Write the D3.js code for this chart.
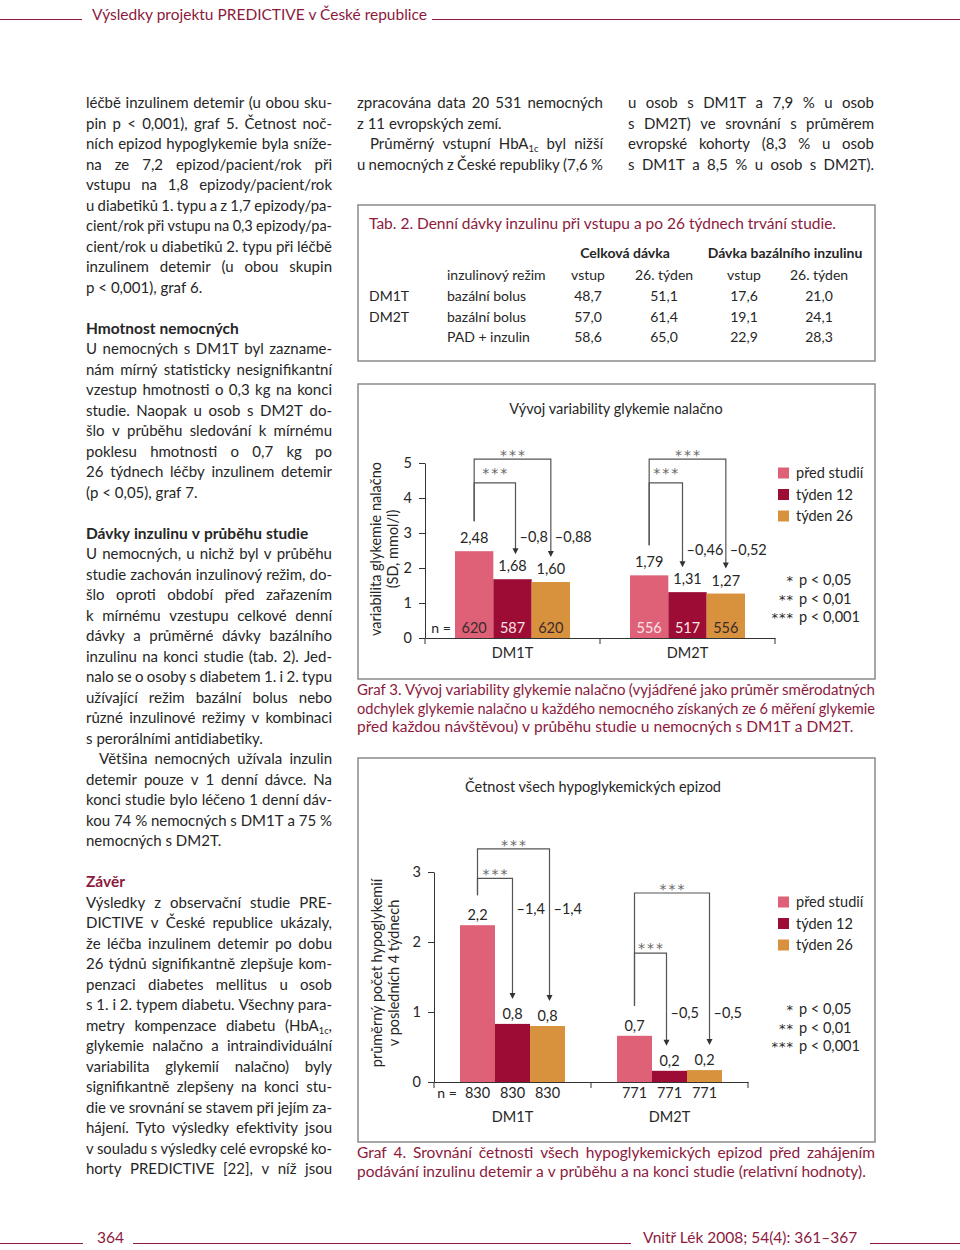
<!DOCTYPE html>
<html><head><meta charset="utf-8">
<script src="https://cdn.jsdelivr.net/npm/d3@7"></script>
<style>body{margin:0;background:#fff}svg{display:block}text{font-family:Lato,"Open Sans",sans-serif}</style>
</head><body><svg id="page" width="960" height="1250"></svg>
<script>
// ---------- DATA ----------
const series = ["před studií", "týden 12", "týden 26"];
const groups = ["DM1T", "DM2T"];
// Graf 3: variabilita glykemie nalačno (SD, mmol/l)
const g3DM1T = [2.48, 1.68, 1.60];
const g3DM2T = [1.79, 1.31, 1.27];
const g3N_DM1T = [620, 587, 620];
const g3N_DM2T = [556, 517, 556];
const g3Diff_DM1T = ["–0,8", "–0,88"];
const g3Diff_DM2T = ["–0,46", "–0,52"];
const g3Ticks = [0, 1, 2, 3, 4, 5];
// Graf 4: průměrný počet hypoglykemií
const g4DM1T = [2.24, 0.83, 0.80];
const g4DM2T = [0.66, 0.16, 0.17];
const g4N_DM1T = [830, 830, 830];
const g4N_DM2T = [771, 771, 771];
const g4Diff_DM1T = ["–1,4", "–1,4"];
const g4Diff_DM2T = ["–0,5", "–0,5"];
const g4Ticks = [0, 1, 2, 3];
const sigLegend = [["*", "p < 0,05"], ["**", "p < 0,01"], ["***", "p < 0,001"]];
// Tab. 2
const tabCols = ["inzulinový režim", "vstup", "26. týden", "vstup", "26. týden"];
const tabGroups = ["DM1T", "DM2T", ""];
const tabRegimes = ["bazální bolus", "bazální bolus", "PAD + inzulin"];
const tabTotalStart = ["48,7", "57,0", "58,6"];
const tabTotalEnd = ["51,1", "61,4", "65,0"];
const tabBasalStart = ["17,6", "19,1", "22,9"];
const tabBasalEnd = ["21,0", "24,1", "28,3"];

// ---------- STYLE ----------
const C = {pink: "#de6178", dark: "#9d0c34", orange: "#d8923e"};
const colors = [C.pink, C.dark, C.orange];
const MAROON = "#8c1a3d", INK = "#262626", GREY = "#555";
const STAR_FONT = "'DejaVu Sans', sans-serif";

const svg = d3.select("#page");
svg.append("rect").attr("width", 960).attr("height", 1250).attr("fill", "#fff");

function appendRich(t, word) {
  const parts = word.split(/(\{[^}]*\})/).filter(p => p.length);
  let sub = false;
  parts.forEach(p => {
    if (p.startsWith("{")) {
      t.append("tspan").attr("font-size", "0.62em").attr("dy", 3).text(p.slice(1, -1));
      sub = true;
    } else {
      const s = t.append("tspan").text(p);
      if (sub) { s.attr("dy", -3); sub = false; }
    }
  });
}
function drawLine(g, str, x0, x1, y, o) {
  const words = str.split(" ");
  const nodes = words.map(w => {
    const t = g.append("text").attr("y", y).attr("font-size", o.size)
      .attr("font-weight", o.bold ? 700 : 400).attr("fill", o.fill || INK);
    appendRich(t, w);
    return t;
  });
  let widths = nodes.map(n => n.node().getComputedTextLength());
  const start = x0 + (o.indent || 0);
  const avail = x1 - start;
  const minGap = o.size * 0.22;
  let gap = o.size * 0.26;
  const n = words.length;
  if (o.justify && n > 1) gap = (avail - d3.sum(widths)) / (n - 1);
  if (n > 1 && gap < minGap && o.justify) {
    const k = (avail - minGap * (n - 1)) / d3.sum(widths);
    nodes.forEach((nd, i) => {
      if (nd.selectAll("tspan").size() === 1)
        nd.attr("textLength", widths[i] * k).attr("lengthAdjust", "spacingAndGlyphs");
    });
    widths = widths.map(w => w * k);
    gap = minGap;
  }
  let x = start;
  nodes.forEach((nd, i) => { nd.attr("x", x); x += widths[i] + gap; });
}
function drawBlock(lines, x0, x1, yStart, lh, size) {
  const g = svg.append("g");
  lines.forEach((l, i) => {
    if (!l) return;
    const o = typeof l === "string" ? {t: l, j: true} : l;
    drawLine(g, o.t, x0, x1, yStart + i * lh, {size: o.size || size, bold: o.b, fill: o.c, justify: o.j, indent: o.ind});
  });
}

// ---------- HEADER / FOOTER ----------
svg.append("line").attr("x1", 0).attr("x2", 82).attr("y1", 19.5).attr("y2", 19.5).attr("stroke", MAROON);
svg.append("text").attr("x", 92).attr("y", 20).attr("font-size", 15.5).attr("fill", MAROON)
  .text("Výsledky projektu PREDICTIVE v České republice");
svg.append("line").attr("x1", 432).attr("x2", 960).attr("y1", 19.5).attr("y2", 19.5).attr("stroke", MAROON);

svg.append("line").attr("x1", 0).attr("x2", 83).attr("y1", 1243.5).attr("y2", 1243.5).attr("stroke", MAROON);
svg.append("text").attr("x", 97).attr("y", 1243).attr("font-size", 15.5).attr("fill", MAROON).text("364");
svg.append("line").attr("x1", 133).attr("x2", 631).attr("y1", 1243.5).attr("y2", 1243.5).attr("stroke", MAROON);
svg.append("text").attr("x", 643).attr("y", 1243).attr("font-size", 15.5).attr("fill", MAROON).text("Vnitř Lék 2008; 54(4): 361–367");
svg.append("line").attr("x1", 870).attr("x2", 960).attr("y1", 1243.5).attr("y2", 1243.5).attr("stroke", MAROON);

// ---------- LEFT COLUMN ----------
const leftLines = [
  "léčbě inzulinem detemir (u obou sku-",
  "pin p < 0,001), graf 5. Četnost noč-",
  "ních epizod hypoglykemie byla sníže-",
  "na ze 7,2 epizod/pacient/rok při",
  "vstupu na 1,8 epizody/pacient/rok",
  "u diabetiků 1. typu a z 1,7 epizody/pa-",
  "cient/rok při vstupu na 0,3 epizody/pa-",
  "cient/rok u diabetiků 2. typu při léčbě",
  "inzulinem detemir (u obou skupin",
  {t: "p < 0,001), graf 6."},
  null,
  {t: "Hmotnost nemocných", b: true, size: 15.5},
  "U nemocných s DM1T byl zazname-",
  "nám mírný statisticky nesignifikantní",
  "vzestup hmotnosti o 0,3 kg na konci",
  "studie. Naopak u osob s DM2T do-",
  "šlo v průběhu sledování k mírnému",
  "poklesu hmotnosti o 0,7 kg po",
  "26 týdnech léčby inzulinem detemir",
  {t: "(p < 0,05), graf 7."},
  null,
  {t: "Dávky inzulinu v průběhu studie", b: true, size: 15.5},
  "U nemocných, u nichž byl v průběhu",
  "studie zachován inzulinový režim, do-",
  "šlo oproti období před zařazením",
  "k mírnému vzestupu celkové denní",
  "dávky a průměrné dávky bazálního",
  "inzulinu na konci studie (tab. 2). Jed-",
  "nalo se o osoby s diabetem 1. i 2. typu",
  "užívající režim bazální bolus nebo",
  "různé inzulinové režimy v kombinaci",
  {t: "s perorálními antidiabetiky."},
  {t: "Většina nemocných užívala inzulin", j: true, ind: 13},
  "detemir pouze v 1 denní dávce. Na",
  "konci studie bylo léčeno 1 denní dáv-",
  "kou 74 % nemocných s DM1T a 75 %",
  {t: "nemocných s DM2T."},
  null,
  {t: "Závěr", b: true, c: MAROON, size: 15.5},
  "Výsledky z observační studie PRE-",
  "DICTIVE v České republice ukázaly,",
  "že léčba inzulinem detemir po dobu",
  "26 týdnů signifikantně zlepšuje kom-",
  "penzaci diabetes mellitus u osob",
  "s 1. i 2. typem diabetu. Všechny para-",
  "metry kompenzace diabetu (HbA{1c},",
  "glykemie nalačno a intraindividuální",
  "variabilita glykemií nalačno) byly",
  "signifikantně zlepšeny na konci stu-",
  "die ve srovnání se stavem při jejím za-",
  "hájení. Tyto výsledky efektivity jsou",
  "v souladu s výsledky celé evropské ko-",
  "horty PREDICTIVE [22], v níž jsou"
];
drawBlock(leftLines, 86, 332, 108, 20.5, 15);

drawBlock([
  "zpracována data 20 531 nemocných",
  {t: "z 11 evropských zemí."},
  {t: "Průměrný vstupní HbA{1c} byl nižší", j: true, ind: 13},
  "u nemocných z České republiky (7,6 %"
], 357, 603, 108, 20.5, 15);
drawBlock([
  "u osob s DM1T a 7,9 % u osob",
  "s DM2T) ve srovnání s průměrem",
  "evropské kohorty (8,3 % u osob",
  "s DM1T a 8,5 % u osob s DM2T)."
], 628, 874, 108, 20.5, 15);

// ---------- TABLE ----------
const tab = svg.append("g");
tab.append("rect").attr("x", 358).attr("y", 205).attr("width", 517).attr("height", 156)
  .attr("fill", "none").attr("stroke", "#8a8a8a").attr("stroke-width", 1.5);
tab.append("text").attr("x", 369).attr("y", 229).attr("font-size", 15.5).attr("fill", MAROON)
  .text("Tab. 2. Denní dávky inzulinu při vstupu a po 26 týdnech trvání studie.");
const colX = [447, 588, 664, 744, 819];
tab.append("text").attr("x", 625).attr("y", 258).attr("text-anchor", "middle").attr("font-size", 14)
  .attr("font-weight", 700).attr("fill", INK).text("Celková dávka");
tab.append("text").attr("x", 785).attr("y", 258).attr("text-anchor", "middle").attr("font-size", 14)
  .attr("font-weight", 700).attr("fill", INK).text("Dávka bazálního inzulinu");
tabCols.forEach((c, i) => tab.append("text").attr("x", colX[i]).attr("y", 280)
  .attr("text-anchor", i ? "middle" : "start").attr("font-size", 14).attr("fill", INK).text(c));
const tabCells = [tabRegimes, tabTotalStart, tabTotalEnd, tabBasalStart, tabBasalEnd];
tabGroups.forEach((gname, r) => {
  const y = 301 + r * 20.5;
  tab.append("text").attr("x", 369).attr("y", y).attr("font-size", 14).attr("fill", INK).text(gname);
  tabCells.forEach((col, i) => tab.append("text").attr("x", colX[i]).attr("y", y)
    .attr("text-anchor", i ? "middle" : "start").attr("font-size", 14).attr("fill", INK).text(col[r]));
});

// ---------- CHART FUNCTION ----------
function chart(cfg) {
  const g = svg.append("g");
  g.append("rect").attr("x", cfg.box[0]).attr("y", cfg.box[1]).attr("width", cfg.box[2]).attr("height", cfg.box[3])
    .attr("fill", "none").attr("stroke", "#8a8a8a").attr("stroke-width", 1.5);
  g.append("text").attr("x", cfg.titleX).attr("y", cfg.titleY).attr("text-anchor", "middle")
    .attr("font-size", 14.5).attr("fill", INK).text(cfg.title);

  const y = d3.scaleLinear().domain([0, cfg.ymax]).range([cfg.y0, cfg.yTop]);
  const x0 = d3.scaleBand().domain(groups).range([cfg.xl, cfg.xr]).padding(0);
  const inset = (x0.bandwidth() - cfg.groupW) / 2;
  const x1 = d3.scaleBand().domain(series).range([inset, inset + cfg.groupW]).padding(0);
  const cx = (gr, s) => x0(gr) + x1(series[s]) + x1.bandwidth() / 2;

  // y axis
  const ya = g.append("g").attr("transform", `translate(${cfg.xl},0)`)
    .call(d3.axisLeft(y).tickValues(cfg.ticks).tickSize(6).tickSizeOuter(0).tickPadding(7).tickFormat(d3.format("d")));
  ya.selectAll("path,line").attr("stroke", "#333");
  ya.selectAll("text").attr("font-size", 14.5).attr("fill", INK);
  // x axis
  const xa = g.append("g").attr("transform", `translate(0,${cfg.y0})`)
    .call(d3.axisBottom(x0).tickSize(0).tickPadding(cfg.catPad).tickSizeOuter(0));
  xa.select(".domain").attr("stroke", "#333");
  xa.selectAll("text").attr("font-size", 14.5).attr("fill", INK);
  const bounds = [cfg.xl, x0("DM2T"), cfg.xr];
  g.selectAll(".bt").data(bounds).join("line").attr("x1", d => d).attr("x2", d => d)
    .attr("y1", cfg.y0).attr("y2", cfg.y0 + 6).attr("stroke", "#333");

  // axis title
  const at = g.append("text").attr("transform", `translate(${cfg.axX},${cfg.axY}) rotate(-90)`)
    .attr("text-anchor", "middle").attr("font-size", 14.5).attr("fill", INK);
  cfg.axTitle.forEach((t, i) => at.append("tspan").attr("x", 0).attr("dy", i ? 17 : 0).text(t));

  // bars
  const rows = groups.map((gr, gi) => ({gr, vals: cfg.values[gi], n: cfg.ns[gi], lab: cfg.labels[gi]}));
  rows.forEach(r => {
    r.vals.forEach((v, s) => {
      g.append("rect").attr("x", x0(r.gr) + x1(series[s])).attr("width", x1.bandwidth())
        .attr("y", y(v)).attr("height", cfg.y0 - y(v)).attr("fill", colors[s]);
      g.append("text").attr("x", cx(r.gr, s)).attr("y", y(v) - cfg.labOff).attr("text-anchor", "middle")
        .attr("font-size", 14.5).attr("fill", INK).text(r.lab[s]);
      g.append("text").attr("x", cx(r.gr, s)).attr("y", cfg.nY).attr("text-anchor", "middle")
        .attr("font-size", 14.5).attr("fill", cfg.nFill(r.gr, s)).text(r.n[s]);
    });
  });
  g.append("text").attr("x", cfg.nLabX).attr("y", cfg.nY).attr("text-anchor", "middle")
    .attr("font-size", 14).attr("fill", INK).text("n =");

  // brackets
  rows.forEach((r, gi) => {
    const b = cfg.brackets[gi];
    const px = cx(r.gr, 0);
    const startY = y(r.vals[0]) - 30;
    [[2, b.outer, b.outerStar, b.outerDx], [1, b.inner, b.innerStar, b.innerDx]].forEach(([s, lvl, starOff, dx]) => {
      const ax = cx(r.gr, s) + dx;
      const ly = y(lvl);
      const tip = y(r.vals[s]) - 25;
      g.append("path").attr("d", `M${px},${startY}V${ly}H${ax}V${tip - 5}`)
        .attr("fill", "none").attr("stroke", GREY).attr("stroke-width", 1.2);
      g.append("path").attr("d", `M${ax - 3},${tip - 6}L${ax + 3},${tip - 6}L${ax},${tip}Z`).attr("fill", "#333");
      g.append("text").attr("x", (px + ax) / 2 + 1).attr("y", ly - starOff + 1).attr("text-anchor", "middle")
        .style("font-family", STAR_FONT).attr("font-size", 14).attr("fill", "#666")
        .attr("letter-spacing", 2).text("***");
      g.append("text").attr("x", ax + 4).attr("y", y(b.diffY) + 5).attr("font-size", 14.5)
        .attr("fill", INK).text(b.diff[s - 1]);
    });
  });

  // legend
  series.forEach((s, i) => {
    const ly = cfg.legY + i * 21.5;
    g.append("rect").attr("x", 778).attr("y", ly - 5.5).attr("width", 11).attr("height", 11).attr("fill", colors[i]);
    g.append("text").attr("x", 796).attr("y", ly + 5).attr("font-size", 14.5).attr("fill", INK).text(s);
  });
  sigLegend.forEach((d, i) => {
    const ly = cfg.sigY + i * 18.5;
    g.append("text").attr("x", 794).attr("y", ly + 5).attr("text-anchor", "end")
      .style("font-family", STAR_FONT).attr("font-size", 13).attr("letter-spacing", 1)
      .attr("fill", INK).text(d[0]);
    g.append("text").attr("x", 799).attr("y", ly + 5).attr("font-size", 14.5).attr("fill", INK).text(d[1]);
  });
}

chart({
  box: [358, 384, 517, 295], title: "Vývoj variability glykemie nalačno", titleX: 616, titleY: 414,
  ymax: 5, y0: 638, yTop: 463, ticks: g3Ticks, xl: 425, xr: 775, groupW: 115, catPad: 10,
  axX: 381, axY: 549, axTitle: ["variabilita glykemie nalačno", "(SD, mmol/l)"],
  values: [g3DM1T, g3DM2T], ns: [g3N_DM1T, g3N_DM2T],
  labels: [g3DM1T.map(v => v.toFixed(2).replace(".", ",")), g3DM2T.map(v => v.toFixed(2).replace(".", ","))],
  labOff: 8, nY: 633, nLabX: 441,
  nFill: (gr, s) => (s === 1 || (gr === "DM2T" && s === 0)) ? "#fbe3e8" : "#3a2a2a",
  brackets: [
    {outer: 5.11, inner: 4.43, outerStar: 0, innerStar: 6, outerDx: 0, innerDx: 3, diff: g3Diff_DM1T, diffY: 2.89},
    {outer: 5.11, inner: 4.43, outerStar: 0, innerStar: 6, outerDx: 0, innerDx: -5, diff: g3Diff_DM2T, diffY: 2.51}
  ],
  legY: 473, sigY: 580
});
chart({
  box: [358, 758, 517, 384], title: "Četnost všech hypoglykemických epizod", titleX: 593, titleY: 792,
  ymax: 3, y0: 1082, yTop: 872, ticks: g4Ticks, xl: 434, xr: 748, groupW: 105, catPad: 30,
  axX: 382, axY: 973, axTitle: ["průměrný počet hypoglykemií", "v posledních 4 týdnech"],
  values: [g4DM1T, g4DM2T], ns: [g4N_DM1T, g4N_DM2T],
  labels: [g4DM1T.map(v => v.toFixed(1).replace(".", ",")), g4DM2T.map(v => v.toFixed(1).replace(".", ","))],
  labOff: 5, nY: 1098, nLabX: 447,
  nFill: () => INK,
  brackets: [
    {outer: 3.33, inner: 2.91, outerStar: 0, innerStar: 0, outerDx: 2, innerDx: 0, diff: g4Diff_DM1T, diffY: 2.47},
    {outer: 2.70, inner: 1.84, outerStar: 0, innerStar: 1, outerDx: 5, innerDx: -3, diff: g4Diff_DM2T, diffY: 0.99}
  ],
  legY: 902, sigY: 1009
});

// ---------- CAPTIONS ----------
drawBlock([
  "Graf 3. Vývoj variability glykemie nalačno (vyjádřené jako průměr směrodatných",
  "odchylek glykemie nalačno u každého nemocného získaných ze 6 měření glykemie",
  {t: "před každou návštěvou) v průběhu studie u nemocných s DM1T a DM2T.", c: MAROON}
].map(l => typeof l === "string" ? {t: l, j: true, c: MAROON} : l), 357, 875, 695, 18.7, 15.5);
drawBlock([
  {t: "Graf 4. Srovnání četnosti všech hypoglykemických epizod před zahájením", j: true, c: MAROON},
  {t: "podávání inzulinu detemir a v průběhu a na konci studie (relativní hodnoty).", c: MAROON}
], 357, 875, 1158, 19, 15.5);
</script></body></html>
